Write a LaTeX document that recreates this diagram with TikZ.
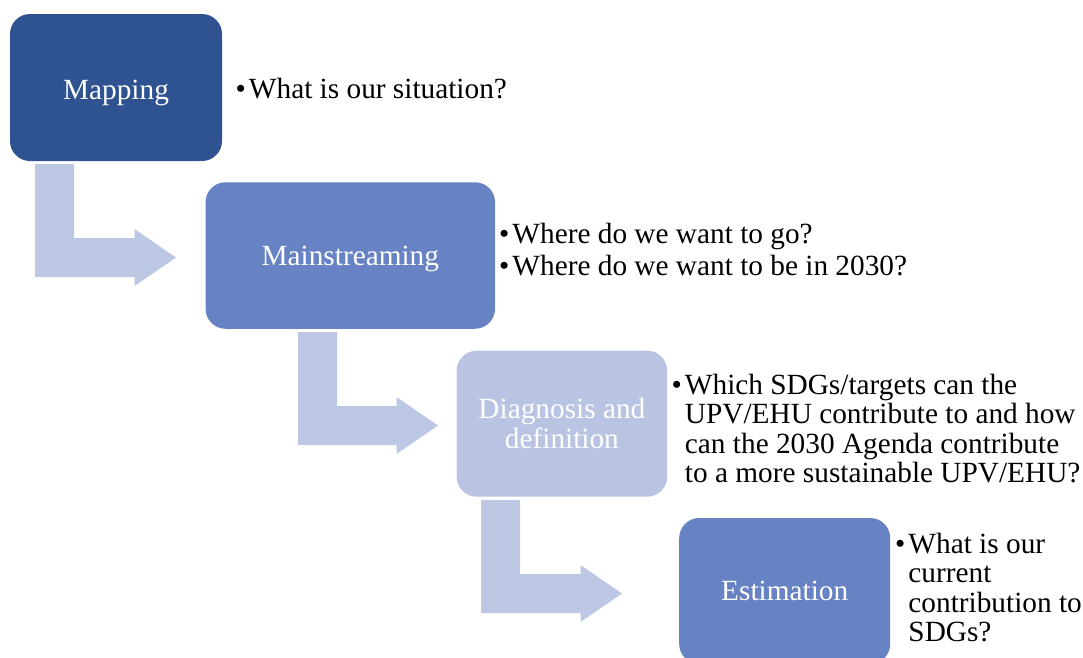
\documentclass[tikz,border=0pt]{standalone}
\usepackage{fontspec}
\setmainfont{Liberation Serif}
\definecolor{darkblue}{HTML}{2F5290}
\definecolor{midblue}{HTML}{6783C4}
\definecolor{paleblue}{HTML}{B8C4E2}
\definecolor{arrowblue}{HTML}{BCC7E4}
% left x, top y, bar bottom y, tip x
\newcommand\bentarrow[4]{%
  \fill[arrowblue] (#1,#2) -- (#1+39,#2) -- (#1+39,#3-39) -- (#4-41.5,#3-39)
    -- (#4-41.5,#3-48) -- (#4,#3-19.5) -- (#4-41.5,#3+9) -- (#4-41.5,#3)
    -- (#1,#3) -- cycle;}
\begin{document}
\begin{tikzpicture}[x=1pt,y=-1pt,
  box/.style={rounded corners=20pt, draw=none, text=white, inner sep=0pt,
    align=center, text depth=0pt, font=\fontsize{29.3}{30}\selectfont},
  qtext/.style={anchor=base west, inner sep=0pt, font=\fontsize{29.3}{29.5}\selectfont}]
\useasboundingbox (0,0) rectangle (1083,657);
\clip (0,0) rectangle (1083,657);

\node[box, fill=darkblue, minimum width=212pt, minimum height=147pt, text height=24.5pt] (map) at (116,87.5) {Mapping};
\node[box, fill=midblue, minimum width=289.5pt, minimum height=146.5pt] (main) at (350.3,255.5) {Mainstreaming};
\node[box, fill=paleblue, minimum width=210.5pt, minimum height=146pt] (diag) at (561.9,423.7) {Diagnosis and\\definition};
\node[box, fill=midblue, minimum width=211pt, minimum height=146pt] (est) at (784.7,591) {Estimation};

\bentarrow{35}{164}{277}{176}
\bentarrow{298}{332}{445}{438}
\bentarrow{481}{500}{613}{622}

\node[qtext] (q1) at (235.5,98) {\begin{tabular}[t]{@{}l@{\hspace{3pt}}l@{}}\textbullet & What is our situation?\end{tabular}};
\node[qtext] (q2) at (499,243.3) {\begin{tabular}[t]{@{}l@{\hspace{3pt}}l@{}}\textbullet & Where do we want to go?\\[3pt]
\textbullet & Where do we want to be in 2030?\end{tabular}};
\node[qtext] (q3) at (671.5,394) {\begin{tabular}[t]{@{}l@{\hspace{3pt}}l@{}}\textbullet & Which SDGs/targets can the\\
 & UPV/EHU contribute to and how\\
 & can the 2030 Agenda contribute\\
 & to a more sustainable UPV/EHU?\end{tabular}};
\node[qtext] (q4) at (895,553) {\begin{tabular}[t]{@{}l@{\hspace{3pt}}l@{}}\textbullet & What is our\\
 & current\\
 & contribution to\\
 & SDGs?\end{tabular}};
\end{tikzpicture}
\end{document}
